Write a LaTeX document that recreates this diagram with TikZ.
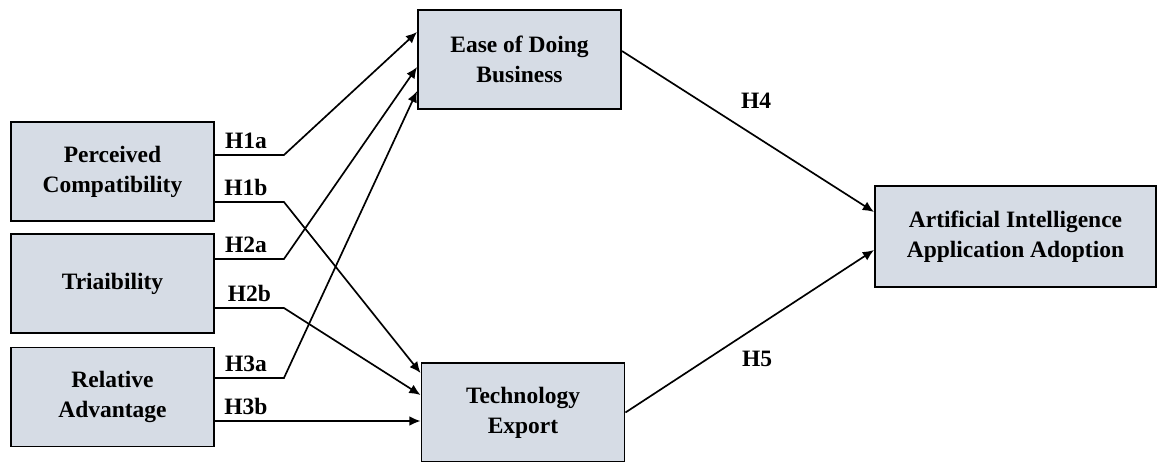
\documentclass[tikz,border=0pt]{standalone}
\usepackage{fontspec}
\setmainfont{Liberation Serif}
\usetikzlibrary{arrows.meta, positioning, calc}
\definecolor{boxfill}{HTML}{D6DCE5}

\begin{document}
\begin{tikzpicture}[
        x=0.025cm, y=-0.025cm,
        construct/.style={draw=black, line width=1.3pt, fill=boxfill, align=center,
            minimum width=5.075cm, minimum height=2.475cm, inner sep=2pt},
        path/.style={line width=1.2pt, -{Latex[length=8pt, width=7pt]}},
        hyp/.style={font=\bfseries\fontsize{16.7}{20}\selectfont, inner sep=4pt},
        every node/.style={font=\bfseries\fontsize{16.7}{21.3}\selectfont}
    ]

    \useasboundingbox (0,0) rectangle (1158,461);

    % Constructs
    \node[construct] (pc) at (112.5,171.5) {Perceived\\Compatibility};
    \node[construct] (tr) at (112.5,283.5) {Triaibility};
    \node[construct] (ra) at (112.5,397) {Relative\\Advantage};
    \node[construct] (edb) at (519.5,59.5) {Ease of Doing\\Business};
    \node[construct] (te) at (523,412.5) {Technology\\Export};
    \node[construct, minimum width=7.025cm, minimum height=2.525cm] (aia) at (1015.5,236.5)
        {Artificial Intelligence\\Application Adoption};

    % Paths to Ease of Doing Business
    \draw[path] ($(pc.east)+(0,-16.5)$) -- node[hyp, above, pos=0.45] {H1a} ++(69,0)
        -- ($(edb.west)+(0,-27.5)$);
    \draw[path] ($(tr.east)+(0,-24.5)$) -- node[hyp, above, pos=0.45] {H2a} ++(69,0)
        -- ($(edb.west)+(0,7.5)$);
    \draw[path] ($(ra.east)+(0,-19)$) -- node[hyp, above, pos=0.45] {H3a} ++(69,0)
        -- ($(edb.west)+(0,31.5)$);

    % Paths to Technology Export
    \draw[path] ($(pc.east)+(0,30.5)$) -- node[hyp, above, pos=0.45] {H1b} ++(69,0)
        -- ($(te.west)+(0,-39.5)$);
    \draw[path] ($(tr.east)+(0,24.5)$) -- node[hyp, above, pos=0.5] {H2b} ++(69,0)
        -- ($(te.west)+(0,-17.5)$);
    \draw[path] ($(ra.east)+(0,24)$) -- node[hyp, above, pos=0.15] {H3b}
        ($(te.west)+(0,8.5)$);

    % Paths to adoption
    \draw[path] ($(edb.east)+(0,-8.5)$) -- ($(aia.west)+(0,-24.5)$);
    \draw[path] (te.east) -- ($(aia.west)+(0,13.5)$);
    \node[hyp] (h4) at (756,101) {H4};
    \node[hyp] (h5) at (757,359) {H5};

\end{tikzpicture}
\end{document}
